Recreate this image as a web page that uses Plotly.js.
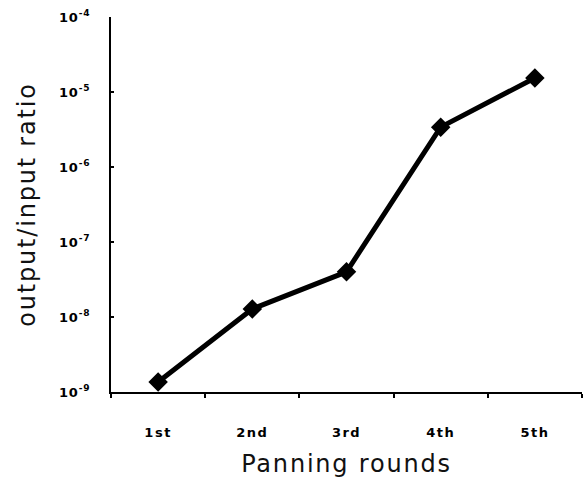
<!DOCTYPE html>
<html>
<head>
<meta charset="utf-8">
<script src="https://cdn.plot.ly/plotly-3.0.1.min.js"></script>
<style>
html,body{margin:0;padding:0;background:#fff;}
#chart text.xtitle, #chart text.ytitle {letter-spacing:1.8px;}
#chart .xtick text {letter-spacing:1.5px;}
#chart .ytick text {letter-spacing:0.8px;}
</style>
</head>
<body>
<div id="chart" style="width:586px;height:478px;"></div>
<script>
const rounds = ["1st", "2nd", "3rd", "4th", "5th"];
const ratios = [1.36e-9, 1.28e-8, 4.0e-8, 3.4e-6, 1.54e-5];
const yTickVals = [1e-9, 1e-8, 1e-7, 1e-6, 1e-5, 1e-4];
const yTickText = ["10<sup>-9</sup>", "10<sup>-8</sup>", "10<sup>-7</sup>", "10<sup>-6</sup>", "10<sup>-5</sup>", "10<sup>-4</sup>"];

const trace = {
  x: rounds,
  y: ratios,
  type: "scatter",
  mode: "lines+markers",
  line: {color: "#000", width: 5},
  marker: {symbol: "diamond", size: 15, color: "#000"},
  cliponaxis: false
};

const layout = {
  width: 586, height: 478,
  margin: {l: 111, r: 4, t: 17, b: 86},
  paper_bgcolor: "#fff", plot_bgcolor: "#fff",
  showlegend: false,
  xaxis: {
    type: "category",
    range: [-0.5, 4.5],
    tickson: "boundaries",
    ticks: "outside", ticklen: 4, tickwidth: 2, tickcolor: "#000",
    showline: true, linecolor: "#000", linewidth: 2,
    showgrid: false, zeroline: false,
    tickfont: {family: "DejaVu Sans", size: 13, color: "#000", weight: "bold"},
    ticklabelstandoff: 27,
    title: {text: "Panning rounds", font: {family: "DejaVu Sans", size: 24, color: "#111"}, standoff: 20}
  },
  yaxis: {
    type: "log",
    range: [-9, -4],
    tickvals: yTickVals, ticktext: yTickText,
    ticks: "inside", ticklen: 3, tickwidth: 2, tickcolor: "#000",
    showline: true, linecolor: "#000", linewidth: 2,
    showgrid: false, zeroline: false,
    tickfont: {family: "DejaVu Sans", size: 13, color: "#000", weight: "bold"},
    ticklabelstandoff: 16,
    title: {text: "output/input ratio", font: {family: "DejaVu Sans", size: 24, color: "#111"}, standoff: 20}
  }
};

Plotly.newPlot("chart", [trace], layout, {displayModeBar: false, staticPlot: true});
</script>
</body>
</html>
